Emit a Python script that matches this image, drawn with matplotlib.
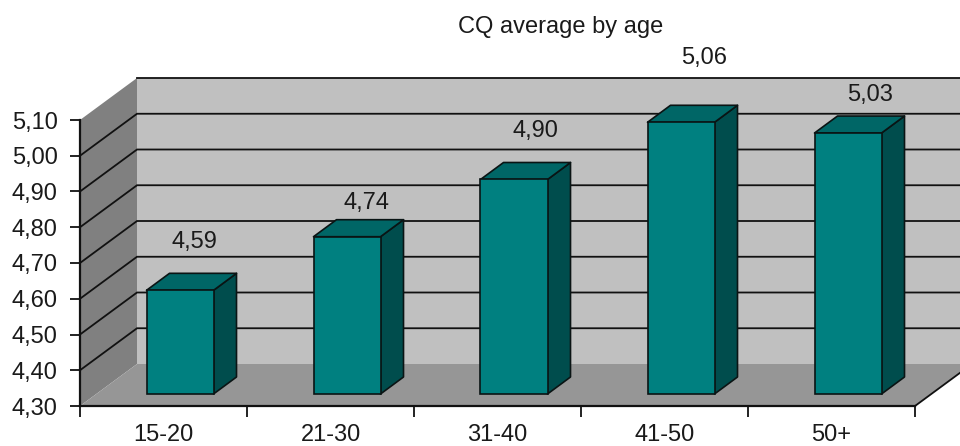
import matplotlib
matplotlib.use("Agg")
import matplotlib.pyplot as plt
from matplotlib.patches import Polygon

plt.rcParams['font.family'] = ['Liberation Sans', 'DejaVu Sans']

categories = ['15-20', '21-30', '31-40', '41-50', '50+']
values = [4.59, 4.74, 4.90, 5.06, 5.03]
value_labels = ['4,59', '4,74', '4,90', '5,06', '5,03']
y_ticks = [4.3, 4.4, 4.5, 4.6, 4.7, 4.8, 4.9, 5.0, 5.1]
y_tick_labels = ['4,30', '4,40', '4,50', '4,60', '4,70', '4,80', '4,90', '5,00', '5,10']
label_offsets_px = [(14, 48), (20, 34), (21, 48), (23, 64), (22, 38)]

W, H = 960, 446
FS = 17
TXT = '#1a1a1a'
LINE = '#111111'
fig = plt.figure(figsize=(W / 100, H / 100), dpi=100)
L, R, T, B = 80, 915, 120, 406
ax = fig.add_axes([L / W, 1 - B / H, (R - L) / W, (B - T) / H])
ax.set_xlim(-0.5, 4.5)
ax.set_ylim(4.3, 5.1)
ax.patch.set_visible(False)

px = 5.0 / (R - L)            # category units per pixel
py = 0.8 / (B - T)            # value units per pixel
DX, DY = 57 * px, 42 * py     # full floor depth
BX, BY = 16.5 * px, 12 * py   # bar front offset
SX, SY = 23 * px, 17 * py     # bar depth
BW = 67 * px
x0, x1 = ax.get_xlim()
y0, y1 = ax.get_ylim()


def poly(pts, fc, ec='none', lw=0, z=1):
    ax.add_patch(Polygon(pts, closed=True, fc=fc, ec=ec, lw=lw, zorder=z,
                         clip_on=False, joinstyle='round'))


# walls and floor
poly([(x0 + DX, y0 + DY), (x1 + DX, y0 + DY), (x1 + DX, y1 + DY), (x0 + DX, y1 + DY)], '#C0C0C0')
poly([(x0, y0), (x0 + DX, y0 + DY), (x0 + DX, y1 + DY), (x0, y1)], '#808080')
poly([(x0, y0), (x1, y0), (x1 + DX, y0 + DY), (x0 + DX, y0 + DY)], '#969696')

# gridlines across the walls
for v in y_ticks[1:-1]:
    ax.plot([x0, x0 + DX, x1 + DX], [v, v + DY, v + DY], color=LINE, lw=1.3,
            zorder=2, clip_on=False, solid_joinstyle='miter')
ax.plot([x1, x1 + DX], [y0, y0 + DY], color=LINE, lw=1.3, zorder=2, clip_on=False)
ax.plot([x0 + DX, x1 + DX], [y1 + DY, y1 + DY], color=LINE, lw=1.3, zorder=2, clip_on=False)

# bars
for i, (v, lab, (ox, oy)) in enumerate(zip(values, value_labels, label_offsets_px)):
    xl = i - BW / 2 + BX
    xr = xl + BW
    yb = y0 + BY
    yt = v + BY
    z = 3 + i
    poly([(xr, yb), (xr + SX, yb + SY), (xr + SX, yt + SY), (xr, yt)], '#004D4D', '#0A1414', 1.2, z)
    poly([(xl, yt), (xr, yt), (xr + SX, yt + SY), (xl + SX, yt + SY)], '#006666', '#0A1414', 1.2, z)
    ax.bar(i + BX, v - y0, BW, bottom=yb, color='#008080', edgecolor='#0A1414', lw=1.2,
           zorder=z, clip_on=False)
    ax.annotate(lab, (i + BX, yt), xytext=(ox, oy), textcoords='offset pixels',
                ha='center', va='center', fontsize=FS, color=TXT,
                zorder=20, annotation_clip=False)

# axes and ticks
for s in ('top', 'right'):
    ax.spines[s].set_visible(False)
for s in ('left', 'bottom'):
    ax.spines[s].set_linewidth(1.6)
    ax.spines[s].set_color(LINE)
    ax.spines[s].set_zorder(15)
ax.set_yticks(y_ticks)
ax.set_yticklabels(y_tick_labels)
ax.set_xticks(range(len(categories)))
ax.set_xticklabels(categories)
ax.set_xticks([k - 0.5 for k in range(len(categories) + 1)], minor=True)
ax.tick_params(axis='x', which='major', length=0, pad=13, labelsize=FS, labelcolor=TXT)
ax.tick_params(axis='x', which='minor', length=8, width=1.3, color=LINE)
ax.tick_params(axis='y', length=7, width=1.3, color=LINE, pad=9, labelsize=FS, labelcolor=TXT)

fig.text(561 / W, 1 - 27 / H, 'CQ average by age', ha='center', va='center',
         fontsize=FS, color=TXT)

fig.savefig('out.png', dpi=100)
